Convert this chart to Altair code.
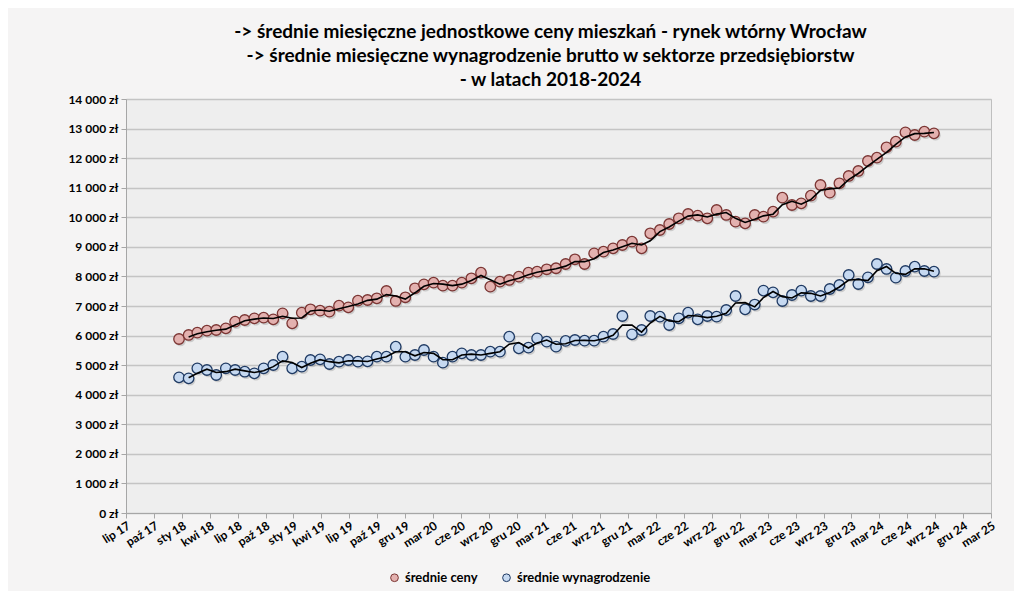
import altair as alt
import pandas as pd
import datetime as dt

# ---- data ----
months = pd.date_range("2018-01-01", "2024-09-01", freq="MS")

prices = [5884, 6020, 6098, 6166, 6189, 6245, 6470, 6527, 6583, 6605, 6550, 6753,
          6415, 6774, 6889, 6842, 6808, 7011, 6956, 7180, 7203, 7261, 7508, 7170,
          7295, 7599, 7734, 7790, 7688, 7688, 7790, 7937, 8127, 7655, 7824, 7880,
          7993, 8127, 8161, 8242, 8276, 8420, 8580, 8420, 8782, 8838, 8951, 9063,
          9176, 8951, 9459, 9570, 9773, 9966, 10111, 10054, 9966, 10247, 10078, 9851,
          9797, 10078, 10020, 10190, 10663, 10416, 10473, 10731, 11092, 10832, 11150, 11397,
          11566, 11904, 12016, 12367, 12557, 12874, 12783, 12895, 12840]

wages = [4589, 4555, 4893, 4836, 4667, 4893, 4836, 4778, 4724, 4893, 5005, 5286,
         4893, 4948, 5174, 5196, 5039, 5117, 5174, 5117, 5130, 5286, 5286, 5624,
         5286, 5343, 5512, 5286, 5083, 5286, 5400, 5343, 5343, 5455, 5455, 5962,
         5568, 5591, 5906, 5793, 5624, 5820, 5850, 5827, 5827, 5962, 6053, 6662,
         6042, 6188, 6662, 6639, 6357, 6583, 6774, 6550, 6662, 6639, 6865, 7338,
         6889, 7050, 7520, 7463, 7169, 7372, 7518, 7338, 7338, 7575, 7710, 8049,
         7744, 7970, 8420, 8252, 7958, 8184, 8330, 8184, 8161]

series_names = ["średnie ceny", "średnie wynagrodzenie"]
fill_colors = ["#E3B1AF", "#C6D9F1"]
stroke_colors = ["#7B3533", "#1F3A63"]

title_lines = [
    "->  średnie miesięczne jednostkowe ceny mieszkań - rynek wtórny Wrocław",
    "->  średnie miesięczne wynagrodzenie brutto w sektorze przedsiębiorstw",
    "- w latach 2018-2024",
]

y_ticks = list(range(0, 14001, 1000))

# Excel-style date axis: major unit 90 days
axis_start = dt.date(2017, 7, 14)
tick_dates = [axis_start + dt.timedelta(days=90 * k) for k in range(32)]
tick_values = [alt.DateTime(year=d.year, month=d.month, date=d.day) for d in tick_dates]
x_domain = [tick_values[0], tick_values[-1]]

# ---- table ----
rows = []
for name, vals in zip(series_names, [prices, wages]):
    for m, v in zip(months, vals):
        rows.append({"date": m.strftime("%Y-%m-%dT00:00:00"), "series": name, "value": v})
df = pd.DataFrame(rows)

FONT = "Lato"

x_enc = alt.X(
    "date:T",
    scale=alt.Scale(domain=x_domain),
    axis=alt.Axis(
        values=tick_values,
        labelExpr="['sty','lut','mar','kwi','maj','cze','lip','sie','wrz','paź','lis','gru'][month(datum.value)] + ' ' + timeFormat(datum.value, '%y')",
        labelAngle=328,
        labelAlign="right",
        labelBaseline="top",
        labelFont=FONT,
        labelFontWeight="bold",
        labelFontSize=12,
        labelColor="#000000",
        labelPadding=2,
        labelOverlap=False,
        tickSize=5,
        tickColor="#A6A6A6",
        domainColor="#A6A6A6",
        grid=False,
        title=None,
    ),
)

y_scale = alt.Scale(domain=[0, 14000], nice=False)
y_axis = alt.Axis(
    values=y_ticks,
    labelExpr="replace(format(datum.value, ','), ',', ' ') + ' zł'",
    labelFont=FONT,
    labelFontWeight="bold",
    labelFontSize=12,
    labelColor="#000000",
    labelPadding=3,
    tickSize=5,
    tickColor="#A6A6A6",
    domainColor="#A6A6A6",
    gridColor="#C4C4C4",
    gridWidth=1.5,
    title=None,
)

legend = alt.Legend(
    title=None,
    orient="none",
    legendX=262,
    legendY=472,
    direction="horizontal",
    labelFont=FONT,
    labelFontWeight="bold",
    labelFontSize=13,
    labelColor="#000000",
    symbolSize=60,
    symbolStrokeWidth=1,
    symbolType="circle",
    columnPadding=22,
)

base = alt.Chart(df)

shadow = base.mark_circle(size=110, color="#8A8A8A", opacity=0.35, xOffset=1.5, yOffset=2).encode(
    x=x_enc,
    y=alt.Y("value:Q", scale=y_scale, axis=y_axis),
    detail="series:N",
)

points = base.mark_circle(size=110, opacity=1, strokeWidth=1.3).encode(
    x=x_enc,
    y=alt.Y("value:Q", scale=y_scale, axis=y_axis),
    fill=alt.Fill("series:N", scale=alt.Scale(domain=series_names, range=fill_colors), legend=legend),
    stroke=alt.Stroke("series:N", scale=alt.Scale(domain=series_names, range=stroke_colors), legend=legend),
)

trend = base.transform_window(
    ma="mean(value)",
    cnt="count()",
    frame=[-1, 0],
    groupby=["series"],
    sort=[alt.SortField("date")],
).transform_filter("datum.cnt == 2").mark_line(color="#000000", strokeWidth=1.6).encode(
    x=x_enc,
    y=alt.Y("ma:Q", scale=y_scale, axis=y_axis),
    detail="series:N",
)

chart = alt.layer(shadow, points, trend).properties(
    width=865,
    height=414,
    padding={"left": 118, "top": 91, "right": 23, "bottom": 78},
    autosize=alt.AutoSizeParams(type="none"),
    background="#F5F4F4",
    title=alt.TitleParams(
        text=title_lines,
        font=FONT,
        fontSize=19,
        fontWeight="bold",
        color="#000000",
        anchor="middle",
        dx=-8,
        offset=3,
        lineHeight=24,
    ),
).configure_view(
    fill="#EEEEEE",
    stroke="#BFBFBF",
    strokeWidth=1,
)

chart.save("out.html", embed_options={"renderer": "svg", "actions": False})
